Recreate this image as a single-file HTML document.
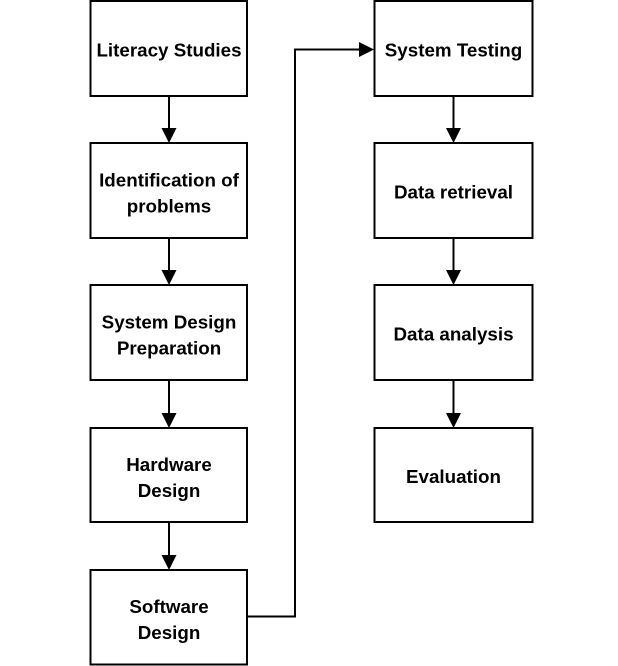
<!DOCTYPE html>
<html>
<head>
<meta charset="utf-8">
<style>
  html, body { margin: 0; padding: 0; background: #fff; }
  svg { display: block; }
  text { font-family: "Liberation Sans", Arial, sans-serif; font-weight: bold; font-size: 18.8px; fill: #000; }
</style>
</head>
<body>
<svg width="618" height="666" viewBox="0 0 618 666" xmlns="http://www.w3.org/2000/svg">
  <rect x="0" y="0" width="618" height="666" fill="#fff"/>
  <g fill="#fff" stroke="#000" stroke-width="2">
    <!-- left column -->
    <rect x="90.5" y="1" width="156.5" height="95"/>
    <rect x="90.5" y="143" width="156.5" height="95"/>
    <rect x="90.5" y="285" width="156.5" height="95"/>
    <rect x="90.5" y="428" width="156.5" height="94"/>
    <rect x="90.5" y="570" width="156.5" height="94.5"/>
    <!-- right column -->
    <rect x="374.5" y="1" width="158" height="95"/>
    <rect x="374.5" y="143" width="158" height="95"/>
    <rect x="374.5" y="285" width="158" height="95"/>
    <rect x="374.5" y="428" width="158" height="94"/>
  </g>

  <!-- vertical arrows -->
  <g stroke="#000" stroke-width="2" fill="none">
    <line x1="169" y1="97" x2="169" y2="130"/>
    <line x1="169" y1="239" x2="169" y2="272"/>
    <line x1="169" y1="381" x2="169" y2="415"/>
    <line x1="169" y1="523" x2="169" y2="557"/>
    <line x1="453.5" y1="97" x2="453.5" y2="130"/>
    <line x1="453.5" y1="239" x2="453.5" y2="272"/>
    <line x1="453.5" y1="381" x2="453.5" y2="415"/>
    <polyline points="248,616.5 295,616.5 295,49.5 360,49.5"/>
  </g>
  <g fill="#000">
    <polygon points="161.5,128 176.5,128 169,143"/>
    <polygon points="161.5,270 176.5,270 169,285"/>
    <polygon points="161.5,413 176.5,413 169,428"/>
    <polygon points="161.5,555 176.5,555 169,570"/>
    <polygon points="446,128 461,128 453.5,143"/>
    <polygon points="446,270 461,270 453.5,285"/>
    <polygon points="446,413 461,413 453.5,428"/>
    <polygon points="359,42 359,57 374,49.5"/>
  </g>

  <!-- labels -->
  <g text-anchor="middle">
    <text x="169" y="56.5">Literacy Studies</text>
    <text x="169" y="186.5">Identification of</text>
    <text x="169" y="212.5">problems</text>
    <text x="169" y="328.5">System Design</text>
    <text x="169" y="354.5">Preparation</text>
    <text x="169" y="471">Hardware</text>
    <text x="169" y="497">Design</text>
    <text x="169" y="613">Software</text>
    <text x="169" y="639">Design</text>

    <text x="453.5" y="56.5">System Testing</text>
    <text x="453.5" y="198.5">Data retrieval</text>
    <text x="453.5" y="340.5">Data analysis</text>
    <text x="453.5" y="483">Evaluation</text>
  </g>
</svg>
</body>
</html>
